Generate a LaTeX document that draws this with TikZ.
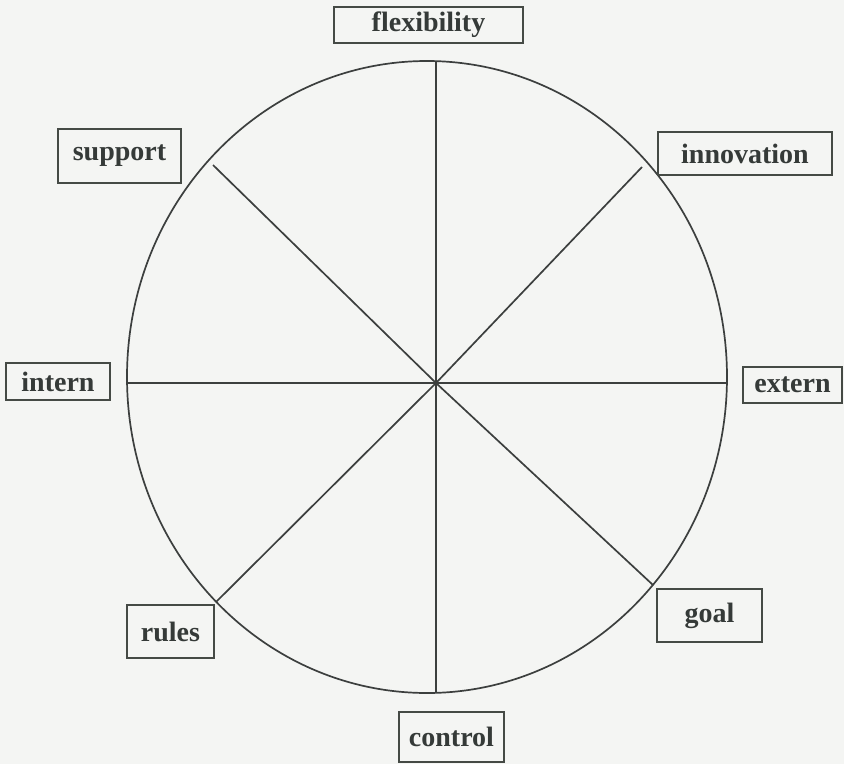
\documentclass[tikz,border=0pt]{standalone}
\usepackage{fontspec}
\setmainfont{Liberation Serif}
\begin{document}
\begin{tikzpicture}[x=1pt,y=-1pt,
  lab/.style={draw=boxc, line width=1.8pt, text=txtc, inner sep=0pt,
    font=\fontsize{28}{32}\selectfont\bfseries, anchor=center},
  ray/.style={draw=linec, line width=1.7pt}]
\definecolor{boxc}{HTML}{454A45}
\definecolor{txtc}{HTML}{353A38}
\definecolor{linec}{HTML}{3C3F3E}
\definecolor{bgc}{HTML}{F4F5F3}
\fill[bgc] (0,0) rectangle (844,764);
\useasboundingbox (0,0) rectangle (844,764);
% circle
\draw[ray] (427,377) ellipse [x radius=300pt, y radius=316pt];
\coordinate (c) at (436,383);
\coordinate (top) at (436,61);
\coordinate (bot) at (436,693);
\coordinate (lft) at (127,383);
\coordinate (rgt) at (727,383);
\coordinate (ul) at (213,165);
\coordinate (ur) at (642,167);
\coordinate (ll) at (216,602);
\coordinate (lr) at (653,585);
\draw[ray] (top) -- (bot);
\draw[ray] (lft) -- (rgt);
\draw[ray] (ul) -- (c) -- (lr);
\draw[ray] (ur) -- (c) -- (ll);
% labels
\node[lab, minimum width=189, minimum height=36] (flex) at (428.5,25) {flexibility};
\node[lab, minimum width=123, minimum height=54] (sup) at (119.5,156) {support};
\node[lab, minimum width=174, minimum height=43] (inn) at (745,153.5) {innovation};
\node[lab, minimum width=104, minimum height=37] (int) at (58,381.5) {intern};
\node[lab, minimum width=99, minimum height=36] (ext) at (792.5,385) {extern};
\node[lab, minimum width=87, minimum height=53] (rul) at (170.5,631.5) {rules};
\node[lab, minimum width=105, minimum height=53] (goal) at (709.5,615.5) {goal};
\node[lab, minimum width=105, minimum height=50] (ctl) at (451.5,737) {control};
\end{tikzpicture}
\end{document}
